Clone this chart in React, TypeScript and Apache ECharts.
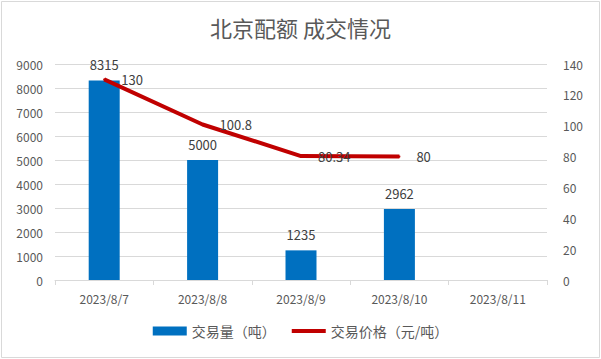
import React, { useEffect, useRef } from "react";
import * as echarts from "echarts";

const categories = ["2023/8/7", "2023/8/8", "2023/8/9", "2023/8/10", "2023/8/11"];
const volume: (number | null)[] = [8315, 5000, 1235, 2962, null];
const price: (number | null)[] = [130, 100.8, 80.34, 80, null];
const titleText = "北京配额 成交情况";
const volumeName = "交易量（吨）";
const priceName = "交易价格（元/吨）";

export default function App() {
  const ref = useRef<HTMLDivElement>(null);
  useEffect(() => {
    document.body.style.margin = "0";
    const chart = echarts.init(ref.current!, undefined, { renderer: "svg" });
    const font = "'Noto Sans CJK SC', 'Noto Sans', sans-serif";
    chart.setOption({
      animation: false,
      backgroundColor: "#ffffff",
      textStyle: { fontFamily: font },
      title: {
        text: titleText,
        left: "center",
        top: 11,
        textStyle: { fontSize: 22, fontWeight: "normal", color: "#595959", fontFamily: font },
      },
      graphic: [
        {
          type: "rect",
          shape: { x: 1.5, y: 1.5, width: 598, height: 356 },
          style: { fill: "none", stroke: "#d9d9d9", lineWidth: 1 },
          silent: true,
        },
      ],
      legend: {
        bottom: 16,
        left: "center",
        itemWidth: 34,
        itemHeight: 9,
        itemGap: 16,
        textStyle: { fontSize: 14, color: "#595959", fontFamily: font },
        data: [
          { name: volumeName, icon: "rect" },
          {
            name: priceName,
            icon: "path://M0,0 L36,0 L36,4 L0,4 Z",
            itemStyle: { color: "#C00000", opacity: 1 },
          },
        ],
      },
      grid: { left: 55, right: 54, top: 64, bottom: 79 },
      xAxis: {
        type: "category",
        data: categories,
        boundaryGap: true,
        axisLine: { lineStyle: { color: "#d9d9d9" } },
        axisTick: { show: true, alignWithLabel: false, lineStyle: { color: "#d9d9d9" }, length: 5 },
        axisLabel: { fontSize: 12, color: "#595959", margin: 12, fontFamily: font },
      },
      yAxis: [
        {
          type: "value",
          min: 0,
          max: 9000,
          interval: 1000,
          axisLine: { show: false },
          axisTick: { show: false },
          splitLine: { lineStyle: { color: "#d9d9d9" } },
          axisLabel: {
            fontSize: 12,
            color: "#595959",
            margin: 12,
            fontFamily: font,
            formatter: (v: number) => String(v),
          },
        },
        {
          type: "value",
          min: 0,
          max: 140,
          interval: 20,
          axisLine: { show: false },
          axisTick: { show: false },
          splitLine: { show: false },
          axisLabel: { fontSize: 12, color: "#595959", margin: 16, fontFamily: font },
        },
      ],
      series: [
        {
          name: volumeName,
          type: "bar",
          data: volume,
          barWidth: 31,
          itemStyle: { color: "#0070C0" },
          label: {
            show: true,
            position: "top",
            distance: 9,
            fontSize: 13,
            color: "#404040",
            fontFamily: font,
          },
        },
        {
          name: priceName,
          type: "line",
          yAxisIndex: 1,
          data: price,
          symbol: "circle",
          symbolSize: 2,
          showSymbol: true,
          lineStyle: { color: "#C00000", width: 4 },
          itemStyle: { color: "#C00000" },
          label: {
            show: true,
            position: "right",
            distance: 16,
            fontSize: 13,
            color: "#404040",
            fontFamily: font,
          },
          z: 3,
        },
      ],
    });
    return () => chart.dispose();
  }, []);
  return <div ref={ref} style={{ position: "absolute", left: 0, top: 0, width: 601, height: 359 }} />;
}
